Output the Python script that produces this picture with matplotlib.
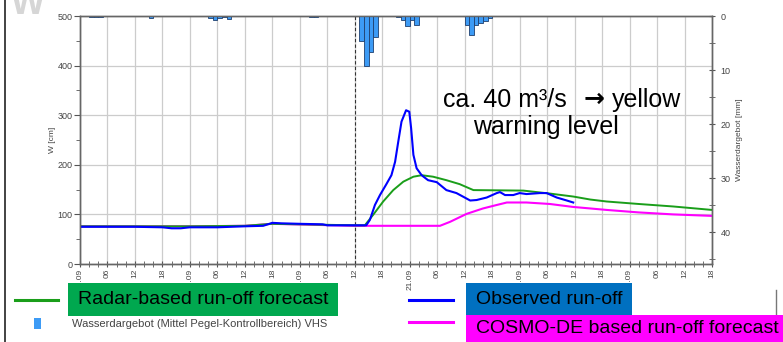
import numpy as np
import matplotlib
matplotlib.use('Agg')
import matplotlib.pyplot as plt
from matplotlib.lines import Line2D
from matplotlib.patches import Rectangle
from matplotlib.ticker import MultipleLocator

plt.rcParams['font.family'] = ['Liberation Sans', 'DejaVu Sans']

# hours since 18.09 00:00
obs_h = [0, 6, 12, 18, 20, 22, 24, 30, 36, 40, 42, 44, 48, 53, 54, 60, 62.5,
         63.3, 64.4, 65.5, 66.9, 68.0, 68.8, 69.5, 70.2, 71.2, 71.9, 72.3, 72.8,
         73.5, 74.6, 76.0, 77.9, 80.0, 82.2, 85.2, 86.6, 88.8, 91.0, 91.7, 92.8,
         94.6, 96.0, 97.5, 100.4, 101.9, 104.1, 106.3, 107.7]
obs_w = [75, 75, 75, 74, 72, 72, 74, 74, 76, 77, 83, 82, 81, 80, 78, 78, 78,
         89, 119, 139, 161, 179, 206, 247, 287, 310, 307, 274, 220,
         193, 179, 169, 165, 149, 143, 128, 129, 134, 143, 145, 139,
         139, 143, 141, 143, 143, 134, 128, 124]

radar_h = [0, 24, 36, 42, 60, 62.2, 64.0, 66.2, 68.4, 70.6, 72.8, 74.6, 77.1,
           80.0, 82.9, 85.9, 96.8, 102.6, 107.7, 111.4, 115, 122, 129.5, 138]
radar_w = [76, 76, 77, 81, 78, 78, 99, 126, 149, 166, 176, 179, 176,
           169, 161, 149, 148, 142, 136, 130, 126, 121, 116, 109]

cosmo_h = [0, 24, 36, 42, 60, 78.6, 80.8, 84.4, 88.0, 91.0, 93.2, 97.5, 102.6,
           107.7, 111.4, 115, 122, 129.5, 138]
cosmo_w = [76, 76, 77, 81, 77, 77, 85, 101, 112, 119, 124, 124, 121,
           115, 112, 109, 104, 100, 97]

# hourly water supply [mm]
rain_h = [2, 3, 4, 15, 28, 29, 30, 31, 32, 50, 51, 61, 62, 63, 64,
          69, 70, 71, 72, 73, 84, 85, 86, 87, 88, 89]
rain_mm = [0.2, 0.2, 0.2, 0.3, 0.3, 0.7, 0.4, 0.2, 0.5, 0.2, 0.2, 4.6, 9.2, 6.6, 3.8,
           0.2, 0.8, 1.9, 0.8, 1.7, 1.7, 3.5, 1.7, 1.3, 1.0, 0.3]

xlabels = ['18.09', '06', '12', '18', '19.09', '06', '12', '18',
           '20.09', '06', '12', '18', '21.09', '06', '12', '18',
           '22.09', '06', '12', '18', '23.09', '06', '12', '18']

W, H = 783, 342
fig = plt.figure(figsize=(W / 100, H / 100), dpi=100)
ax = fig.add_axes([80 / W, 1 - 264 / H, 632 / W, 248 / H])
ax2 = ax.twinx()

# lines
ax.plot(cosmo_h, cosmo_w, color='#ff00ff', lw=1.5, zorder=3)
ax.plot(radar_h, radar_w, color='#1a9e1a', lw=1.4, zorder=4)
ax.plot(obs_h, obs_w, color='#0000ff', lw=1.5, zorder=5)
ax.axvline(60, color='#333333', lw=0.8, ls=(0, (3, 2)), zorder=2)

ax.set_xlim(0, 138)
ax.set_ylim(0, 500)
ax.set_xticks(np.arange(0, 139, 6))
ax.set_xticklabels(xlabels, rotation=90, fontsize=6, color='#444444')
ax.xaxis.set_minor_locator(MultipleLocator(2))
ax.set_yticks(range(0, 501, 100))
ax.yaxis.set_minor_locator(MultipleLocator(50))
ax.tick_params(axis='y', labelsize=6.5, labelcolor='#444444', color='#555555',
               length=4, pad=1.5)
ax.tick_params(axis='y', which='minor', color='#555555', length=3)
ax.tick_params(axis='x', which='both', direction='inout', length=5, color='#555555', pad=1)
ax.grid(True, color='#cccccc', lw=0.9)
ax.set_axisbelow(True)
ax.set_ylabel('W [cm]', fontsize=6, color='#444444', labelpad=1)

# water supply bars, hanging from top
ax2.bar(np.array(rain_h) + 0.5, rain_mm, width=1, color='#3d9bf5',
        edgecolor='#1f3f6e', lw=0.6)
ax2.set_ylim(45.9, 0)
ax2.set_yticks(range(0, 41, 10))
ax2.yaxis.set_minor_locator(MultipleLocator(5))
ax2.tick_params(axis='y', which='both', direction='inout', length=5, color='#555555',
                labelsize=6.5, labelcolor='#444444')
ax2.set_ylabel('Wasserdargebot [mm]', fontsize=6, color='#444444', labelpad=4)

for a in (ax, ax2):
    for s in a.spines.values():
        s.set_color('#666666')
        s.set_linewidth(1)

# annotation
fig.text(443 / W, 1 - 100 / H, 'ca. 40 m³/s', fontsize=18,
         va='center', ha='left', color='black')
fig.text(594 / W, 1 - 99 / H, '\u2192', fontsize=18, family='DejaVu Sans',
         fontweight='bold', va='center', ha='center', color='black')
fig.text(612 / W, 1 - 100 / H, 'yellow', fontsize=18,
         va='center', ha='left', color='black')
fig.text(473 / W, 1 - 127 / H, 'warning level', fontsize=18,
         va='center', ha='left', color='black')

# faded "W" in the corner and frame line
fig.text(28 / W, 1 - 4 / H, 'W', fontsize=26, fontweight='bold', color='#d6d6d6',
         ha='center', va='center')
fig.add_artist(Line2D([5 / W, 5 / W], [0, 1], color='#222222', lw=1.2))
fig.add_artist(Line2D([776 / W, 776 / W], [0, 1 - 290 / H], color='#777777', lw=1))


def px(x, y):
    return x / W, 1 - y / H


# legend
def legend_line(x0, x1, y, color):
    (a, b), (c, d) = px(x0, y), px(x1, y)
    fig.add_artist(Line2D([a, c], [b, d], color=color, lw=2.2))


def legend_box(x0, y0, x1, y1, color, text):
    fx, fy = px(x0, y1)
    fig.add_artist(Rectangle((fx, fy), (x1 - x0) / W, (y1 - y0) / H,
                             facecolor=color, edgecolor='none', zorder=10))
    tx, ty = px(x0 + 10, (y0 + y1) / 2)
    fig.text(tx, ty, text, fontsize=14, va='center', ha='left', color='black', zorder=11)


legend_line(15, 58, 300, '#1a9e1a')
legend_box(68, 283, 338, 316, '#00a84f', 'Radar-based run-off forecast')
legend_line(409, 453, 300, '#0000ff')
legend_box(466, 283, 632, 315, '#0070c0', 'Observed run-off')
legend_line(409, 453, 322, '#ff00ff')
legend_box(466, 315, 783, 342, '#ff00ff', 'COSMO-DE based run-off forecast')

bx, by = px(34, 329)
fig.add_artist(Rectangle((bx, by), 7 / W, 11 / H, facecolor='#3d9bf5', edgecolor='none'))
fig.text(72 / W, 1 - 324 / H, 'Wasserdargebot (Mittel Pegel-Kontrollbereich) VHS',
         fontsize=8, va='center', ha='left', color='#444444', fontstretch='condensed')

fig.savefig('out.png', dpi=100)
